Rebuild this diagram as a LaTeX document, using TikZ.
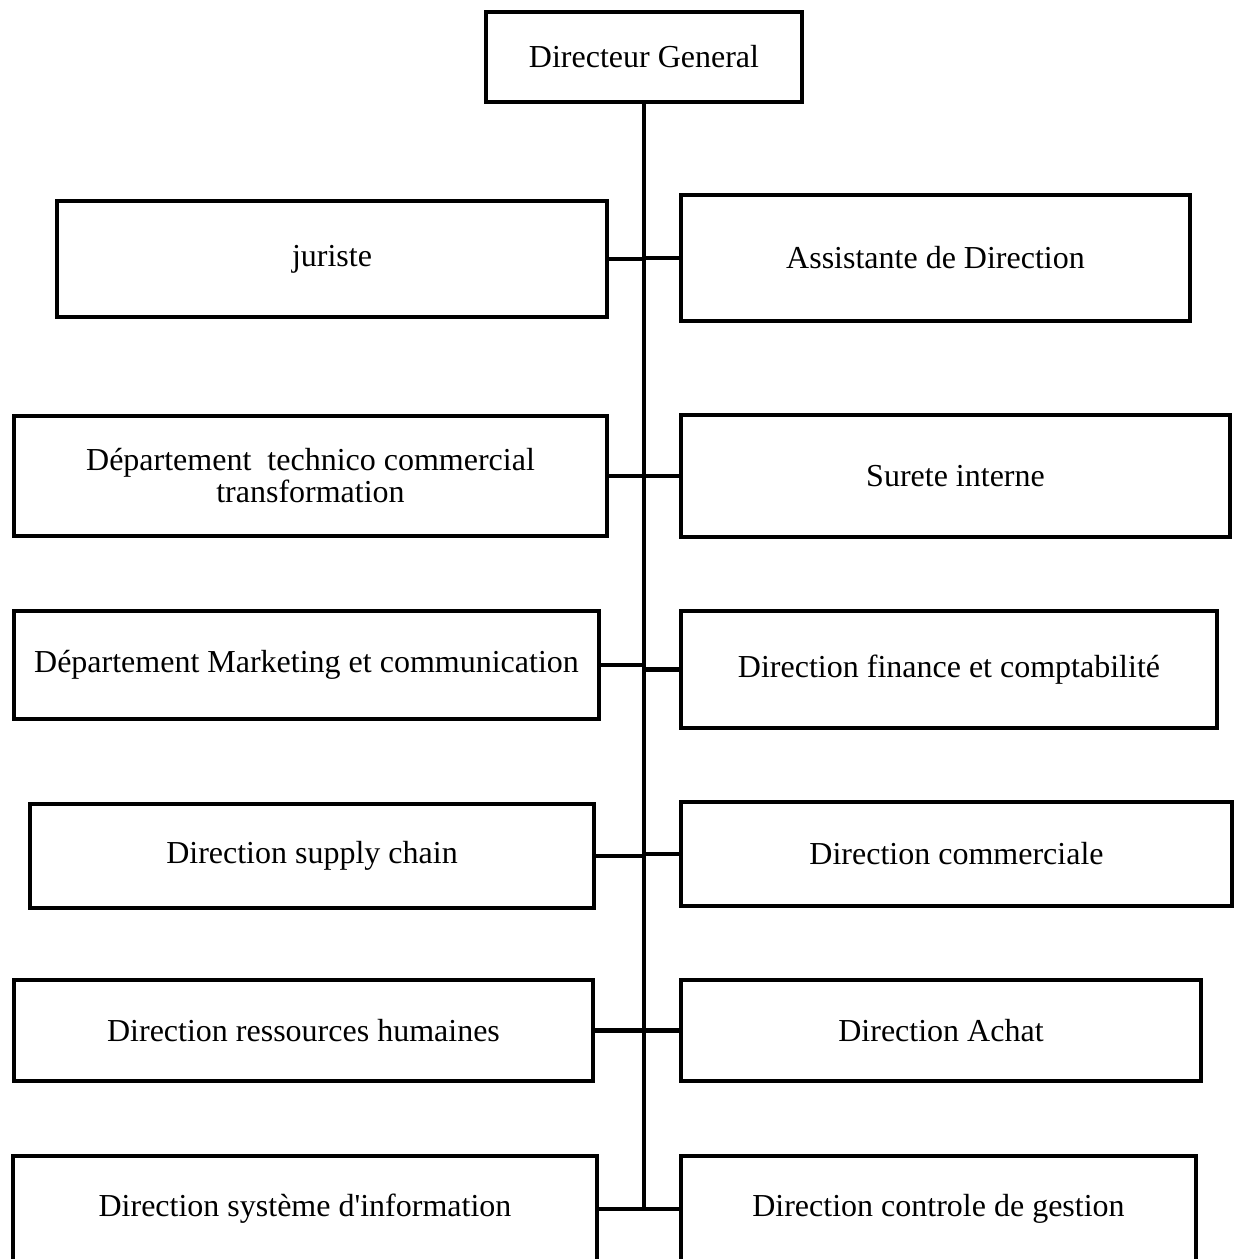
\documentclass[tikz,border=0pt]{standalone}
\usepackage{fontspec}
\newfontfamily\srf{Liberation Serif}
\begin{document}
\begin{tikzpicture}[x=1pt,y=-1pt,
  box/.style={draw=black, line width=4pt, fill=white, inner sep=0pt, align=center,
    font=\srf\fontsize{32}{32}\selectfont},
  conn/.style={draw=black, line width=4.5pt}]
\useasboundingbox (0,0) rectangle (1235,1259);
\clip (0,0) rectangle (1235,1259);
% boxes
\node[box, minimum width=316pt, minimum height=90pt] (dg) at (644,57) {Directeur General};
\node[box, minimum width=550pt, minimum height=116pt] (jur) at (332,259) {juriste};
\node[box, minimum width=509pt, minimum height=126pt] (ass) at (935.5,258) {Assistante de Direction};
\node[box, minimum width=593pt, minimum height=120pt] (tech) at (310.5,476) {Département\ \ technico commercial\\transformation};
\node[box, minimum width=549pt, minimum height=122pt] (sur) at (955.5,476) {Surete interne};
\node[box, minimum width=585pt, minimum height=108pt] (mkt) at (306.5,665) {Département Marketing et communication};
\node[box, minimum width=536pt, minimum height=117pt] (fin) at (949,669.5) {Direction finance et comptabilité};
\node[box, minimum width=564pt, minimum height=104pt] (sup) at (312,856) {Direction supply chain};
\node[box, minimum width=551pt, minimum height=104pt] (com) at (956.5,854) {Direction commerciale};
\node[box, minimum width=579pt, minimum height=101pt] (rh) at (303.5,1030.5) {Direction ressources humaines};
\node[box, minimum width=520pt, minimum height=101pt] (ach) at (941,1030.5) {Direction Achat};
\node[box, minimum width=584pt, minimum height=106pt] (si) at (305,1209) {Direction système d'information};
\node[box, minimum width=515pt, minimum height=106pt] (cdg) at (938.5,1209) {Direction controle de gestion};
% spine
\coordinate (spinebot) at (644,1209);
\draw[conn] (dg.south) -- (spinebot);
% branches
\foreach \n in {jur,tech,mkt,sup,rh,si}{
  \draw[conn] (\n.east) -- (\n.east -| dg.south);
}
\foreach \n in {ass,sur,fin,com,ach,cdg}{
  \draw[conn] (\n.west) -- (\n.west -| dg.south);
}
\end{tikzpicture}
\end{document}
